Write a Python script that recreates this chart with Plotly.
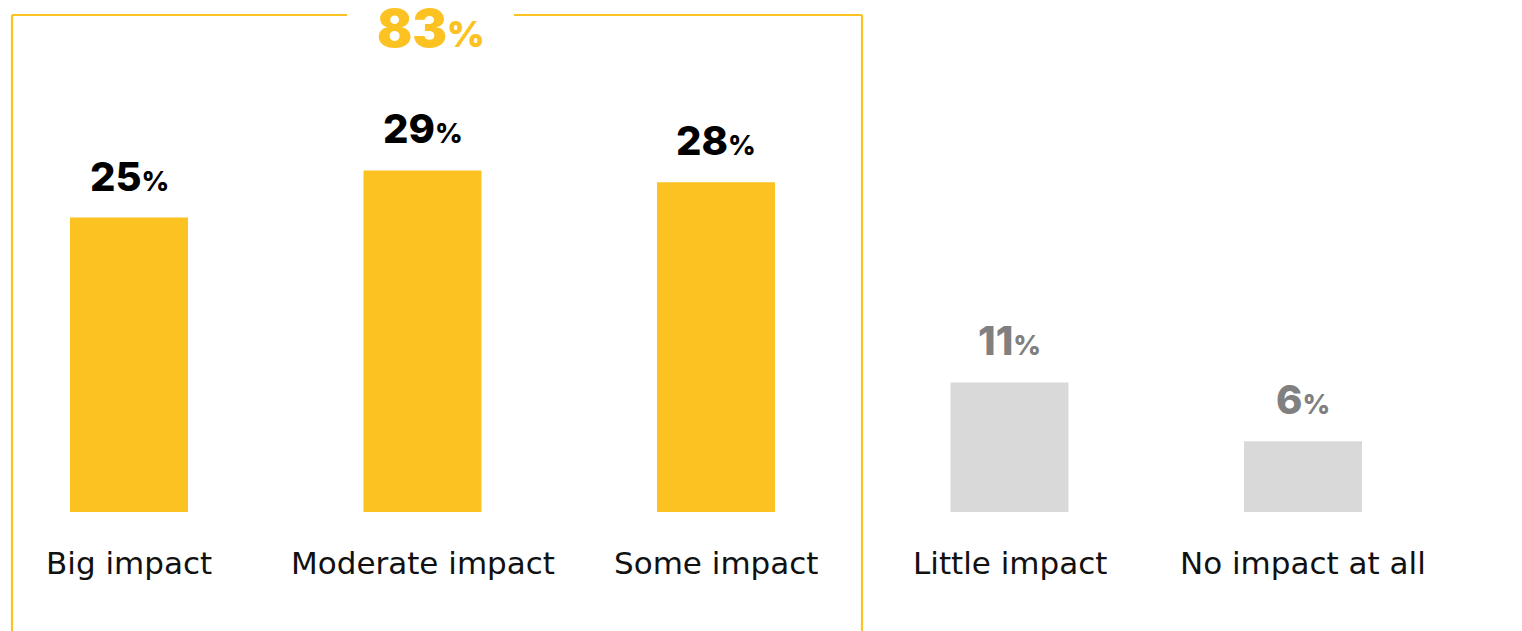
import plotly.graph_objects as go

categories = ["Big impact", "Moderate impact", "Some impact", "Little impact", "No impact at all"]
values = [25, 29, 28, 11, 6]
bar_colors = ["#FCC221", "#FCC221", "#FCC221", "#D9D9D9", "#D9D9D9"]
label_colors = ["#000000", "#000000", "#000000", "#808080", "#808080"]
group_total_label = "83"
group_color = "#FCC221"

OFF = 8  # page body margin
W, H = 1522 - OFF, 631 - OFF
x_px0, x_step = 129 - OFF, 293.5
base_px, px_per_pct = 512 - OFF, 11.78

xr = [(0 - x_px0) / x_step, (W - x_px0) / x_step]
yr = [(base_px - H) / px_per_pct, base_px / px_per_pct]

fig = go.Figure()
fig.add_trace(go.Bar(
    x=list(range(len(categories))), y=values, width=0.402,
    marker=dict(color=bar_colors, line=dict(width=0)),
    hoverinfo="skip",
))

NUM_FONT = "Inter"
TXT_FONT = "DejaVu Sans"

annotations = []
for i, (c, v, lc) in enumerate(zip(categories, values, label_colors)):
    annotations.append(dict(
        x=i, y=v, xref="x", yref="y", yanchor="bottom", xanchor="center",
        text=f"{v}<span style='font-size:27px'>%</span>", showarrow=False,
        font=dict(family=NUM_FONT, size=40, color=lc, weight=800),
        yshift=15,
    ))
    annotations.append(dict(
        x=i, y=(base_px - (563 - OFF)) / px_per_pct, xref="x", yref="y",
        yanchor="middle", xanchor="center", text=c, showarrow=False,
        font=dict(family=TXT_FONT, size=31, color="#111111"),
    ))

def px(xp, yp):
    return (xp - OFF) / W, 1 - (yp - OFF) / H

gx, gy = px(431, 29)
annotations.append(dict(
    x=gx, y=gy, xref="paper", yref="paper",
    yanchor="middle", xanchor="center",
    text=f"{group_total_label}<span style='font-size:36px'>%</span>", showarrow=False,
    font=dict(family=NUM_FONT, size=52, color=group_color, weight=900),
))

shapes = []
line = dict(color=group_color, width=2.2)
for (a, b) in [((12, 15), (347, 15)), ((514, 15), (862, 15)),
               ((12, 15), (12, 650)), ((862, 15), (862, 650))]:
    x0, y0 = px(*a)
    x1, y1 = px(*b)
    shapes.append(dict(type="line", xref="paper", yref="paper",
                       x0=x0, y0=y0, x1=x1, y1=y1, line=line))

fig.update_layout(
    width=W, height=H,
    margin=dict(l=0, r=0, t=0, b=0),
    paper_bgcolor="white", plot_bgcolor="white",
    showlegend=False,
    xaxis=dict(range=xr, visible=False, fixedrange=True),
    yaxis=dict(range=yr, visible=False, fixedrange=True),
    annotations=annotations, shapes=shapes,
)

fig.write_html("out.html", config={"displayModeBar": False})
